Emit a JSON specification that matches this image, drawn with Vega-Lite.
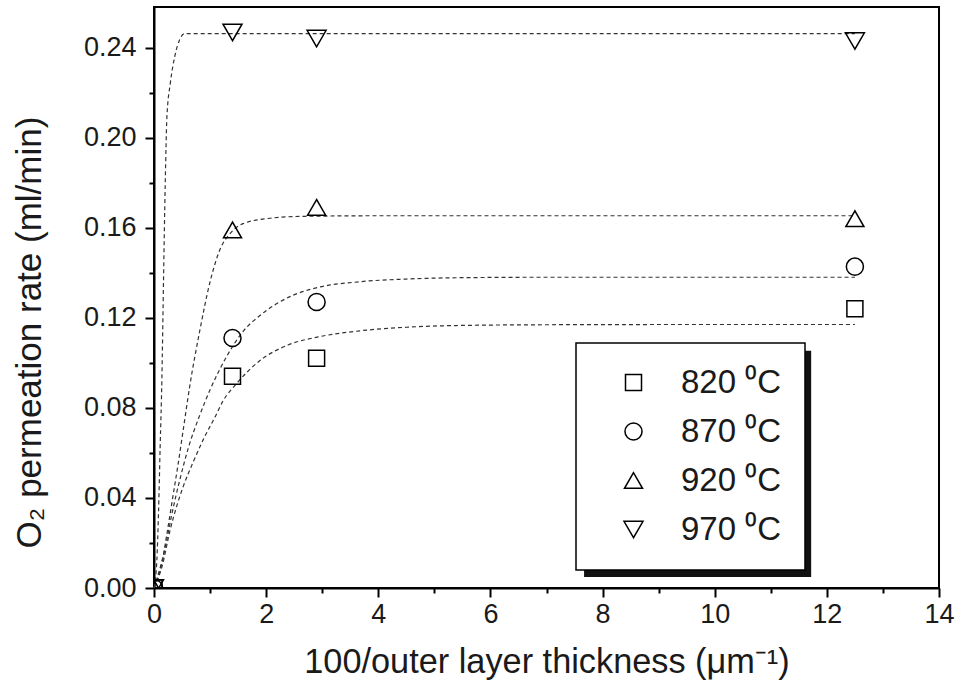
{
  "$schema": "https://vega.github.io/schema/vega-lite/v6.json",
  "width": 785,
  "height": 581,
  "autosize": {"type": "none"},
  "padding": {"left": 154, "top": 7, "right": 21, "bottom": 109},
  "background": "white",
  "datasets": {
    "points": [
      {"series": "820 ⁰C", "x": 0, "y": 0},
      {"series": "820 ⁰C", "x": 1.4, "y": 0.094},
      {"series": "820 ⁰C", "x": 2.9, "y": 0.102},
      {"series": "820 ⁰C", "x": 12.5, "y": 0.124},
      {"series": "870 ⁰C", "x": 0, "y": 0},
      {"series": "870 ⁰C", "x": 1.4, "y": 0.111},
      {"series": "870 ⁰C", "x": 2.9, "y": 0.127},
      {"series": "870 ⁰C", "x": 12.5, "y": 0.1427},
      {"series": "920 ⁰C", "x": 0, "y": 0},
      {"series": "920 ⁰C", "x": 1.4, "y": 0.159},
      {"series": "920 ⁰C", "x": 2.9, "y": 0.169},
      {"series": "920 ⁰C", "x": 12.5, "y": 0.164},
      {"series": "970 ⁰C", "x": 0, "y": 0},
      {"series": "970 ⁰C", "x": 1.4, "y": 0.2467},
      {"series": "970 ⁰C", "x": 2.9, "y": 0.244},
      {"series": "970 ⁰C", "x": 12.5, "y": 0.2429}
    ],
    "fits": [
      {"series": "820 ⁰C", "x": 0, "y": 0},
      {"series": "820 ⁰C", "x": 0.14, "y": 0.0093},
      {"series": "820 ⁰C", "x": 0.29, "y": 0.026},
      {"series": "820 ⁰C", "x": 0.52, "y": 0.045},
      {"series": "820 ⁰C", "x": 0.7, "y": 0.056},
      {"series": "820 ⁰C", "x": 0.88, "y": 0.066},
      {"series": "820 ⁰C", "x": 1.09, "y": 0.076},
      {"series": "820 ⁰C", "x": 1.23, "y": 0.083},
      {"series": "820 ⁰C", "x": 1.48, "y": 0.091},
      {"series": "820 ⁰C", "x": 1.89, "y": 0.101},
      {"series": "820 ⁰C", "x": 2.4, "y": 0.108},
      {"series": "820 ⁰C", "x": 2.93, "y": 0.1115},
      {"series": "820 ⁰C", "x": 3.6, "y": 0.114},
      {"series": "820 ⁰C", "x": 4.5, "y": 0.1158},
      {"series": "820 ⁰C", "x": 5.5, "y": 0.1166},
      {"series": "820 ⁰C", "x": 7, "y": 0.1169},
      {"series": "820 ⁰C", "x": 9, "y": 0.117},
      {"series": "820 ⁰C", "x": 12.5, "y": 0.117},
      {"series": "870 ⁰C", "x": 0, "y": 0},
      {"series": "870 ⁰C", "x": 0.2, "y": 0.018},
      {"series": "870 ⁰C", "x": 0.32, "y": 0.033},
      {"series": "870 ⁰C", "x": 0.46, "y": 0.048},
      {"series": "870 ⁰C", "x": 0.61, "y": 0.062},
      {"series": "870 ⁰C", "x": 0.82, "y": 0.077},
      {"series": "870 ⁰C", "x": 1.0, "y": 0.088},
      {"series": "870 ⁰C", "x": 1.3, "y": 0.103},
      {"series": "870 ⁰C", "x": 1.59, "y": 0.114},
      {"series": "870 ⁰C", "x": 1.89, "y": 0.121},
      {"series": "870 ⁰C", "x": 2.48, "y": 0.13},
      {"series": "870 ⁰C", "x": 2.93, "y": 0.1335},
      {"series": "870 ⁰C", "x": 3.67, "y": 0.136},
      {"series": "870 ⁰C", "x": 4.5, "y": 0.1372},
      {"series": "870 ⁰C", "x": 5.5, "y": 0.1378},
      {"series": "870 ⁰C", "x": 7, "y": 0.138},
      {"series": "870 ⁰C", "x": 12.5, "y": 0.138},
      {"series": "920 ⁰C", "x": 0, "y": 0},
      {"series": "920 ⁰C", "x": 0.14, "y": 0.011},
      {"series": "920 ⁰C", "x": 0.23, "y": 0.024},
      {"series": "920 ⁰C", "x": 0.32, "y": 0.038},
      {"series": "920 ⁰C", "x": 0.43, "y": 0.055},
      {"series": "920 ⁰C", "x": 0.52, "y": 0.07},
      {"series": "920 ⁰C", "x": 0.64, "y": 0.09},
      {"series": "920 ⁰C", "x": 0.82, "y": 0.1147},
      {"series": "920 ⁰C", "x": 1.0, "y": 0.136},
      {"series": "920 ⁰C", "x": 1.18, "y": 0.1505},
      {"series": "920 ⁰C", "x": 1.36, "y": 0.1575},
      {"series": "920 ⁰C", "x": 1.59, "y": 0.1618},
      {"series": "920 ⁰C", "x": 2.07, "y": 0.1642},
      {"series": "920 ⁰C", "x": 2.6, "y": 0.165},
      {"series": "920 ⁰C", "x": 4, "y": 0.1653},
      {"series": "920 ⁰C", "x": 12.5, "y": 0.1653},
      {"series": "970 ⁰C", "x": 0, "y": 0},
      {"series": "970 ⁰C", "x": 0.05, "y": 0.012},
      {"series": "970 ⁰C", "x": 0.08, "y": 0.033},
      {"series": "970 ⁰C", "x": 0.11, "y": 0.063},
      {"series": "970 ⁰C", "x": 0.14, "y": 0.092},
      {"series": "970 ⁰C", "x": 0.17, "y": 0.137},
      {"series": "970 ⁰C", "x": 0.2, "y": 0.179},
      {"series": "970 ⁰C", "x": 0.23, "y": 0.209},
      {"series": "970 ⁰C", "x": 0.29, "y": 0.224},
      {"series": "970 ⁰C", "x": 0.37, "y": 0.236},
      {"series": "970 ⁰C", "x": 0.46, "y": 0.2436},
      {"series": "970 ⁰C", "x": 0.55, "y": 0.2462},
      {"series": "970 ⁰C", "x": 1.0, "y": 0.2462},
      {"series": "970 ⁰C", "x": 12.5, "y": 0.2462}
    ]
  },
  "layer": [
    {
      "data": {"values": [{}]},
      "mark": {"type": "rect", "color": "#111111"},
      "encoding": {
        "x": {"datum": 7.67, "type": "quantitative"},
        "x2": {"datum": 11.72},
        "y": {"datum": 0.1053, "type": "quantitative"},
        "y2": {"datum": 0.0049}
      }
    },
    {
      "data": {"name": "fits"},
      "mark": {"type": "line", "color": "#333333", "strokeWidth": 1.2, "strokeDash": [4, 3], "interpolate": "monotone"},
      "encoding": {
        "x": {
          "field": "x", "type": "quantitative",
          "scale": {"domain": [0, 14], "nice": false, "zero": false},
          "axis": {
            "title": "100/outer layer thickness (μm⁻¹)",
            "titleFontSize": 34.3,
            "values": [0, 1, 2, 3, 4, 5, 6, 7, 8, 9, 10, 11, 12, 13, 14],
            "format": "d",
            "labelFlush": false,
            "labelExpr": "datum.value % 2 === 0 ? datum.label : ''",
            "tickSize": {"condition": {"test": "datum.value % 2 === 0", "value": 9}, "value": 5},
            "labelPadding": 4,
            "titlePadding": 18
          }
        },
        "y": {
          "field": "y", "type": "quantitative",
          "scale": {"domain": [0, 0.258], "nice": false, "zero": false},
          "axis": {
            "title": "O₂ permeation rate (ml/min)",
            "values": [0, 0.02, 0.04, 0.06, 0.08, 0.1, 0.12, 0.14, 0.16, 0.18, 0.2, 0.22, 0.24],
            "format": ".2f",
            "labelFlush": false,
            "labelExpr": "round(datum.value * 100) % 4 === 0 ? datum.label : ''",
            "tickSize": {"condition": {"test": "round(datum.value * 100) % 4 === 0", "value": 9}, "value": 5},
            "labelPadding": 9,
            "titlePadding": 36,
            "titleY": 325
          }
        },
        "detail": {"field": "series"}
      }
    },
    {
      "data": {"name": "points"},
      "mark": {"type": "point", "filled": false, "color": "black", "strokeWidth": 1.5, "opacity": 1, "clip": true},
      "encoding": {
        "x": {"field": "x", "type": "quantitative"},
        "y": {"field": "y", "type": "quantitative"},
        "shape": {
          "field": "series", "type": "ordinal",
          "scale": {"domain": ["820 ⁰C", "870 ⁰C", "920 ⁰C", "970 ⁰C"], "range": ["square", "circle", "triangle-up", "triangle-down"]},
          "legend": {"title": null}
        },
        "size": {
          "field": "series", "type": "ordinal",
          "scale": {"domain": ["820 ⁰C", "870 ⁰C", "920 ⁰C", "970 ⁰C"], "range": [256, 361, 484, 484]},
          "legend": {"title": null}
        }
      }
    }
  ],
  "config": {
    "view": {"stroke": "black", "strokeWidth": 2},
    "axis": {
      "domainColor": "black", "domainWidth": 2,
      "tickColor": "black", "tickWidth": 2,
      "labelColor": "#1a1a1a", "labelFont": "Liberation Sans", "labelFontSize": 27,
      "titleColor": "#1a1a1a", "titleFont": "Liberation Sans", "titleFontSize": 35, "titleFontWeight": "normal",
      "grid": false
    },
    "legend": {
      "orient": "none", "legendX": 422, "legendY": 336,
      "strokeColor": "black", "strokeWidth": 1.5, "fillColor": "white",
      "padding": 23, "labelFont": "Liberation Sans", "labelFontSize": 33, "labelColor": "#1a1a1a",
      "rowPadding": 15, "symbolStrokeColor": "black", "symbolStrokeWidth": 1.5, "symbolFillColor": "white",
      "symbolOffset": 18, "labelOffset": 31
    }
  }
}
